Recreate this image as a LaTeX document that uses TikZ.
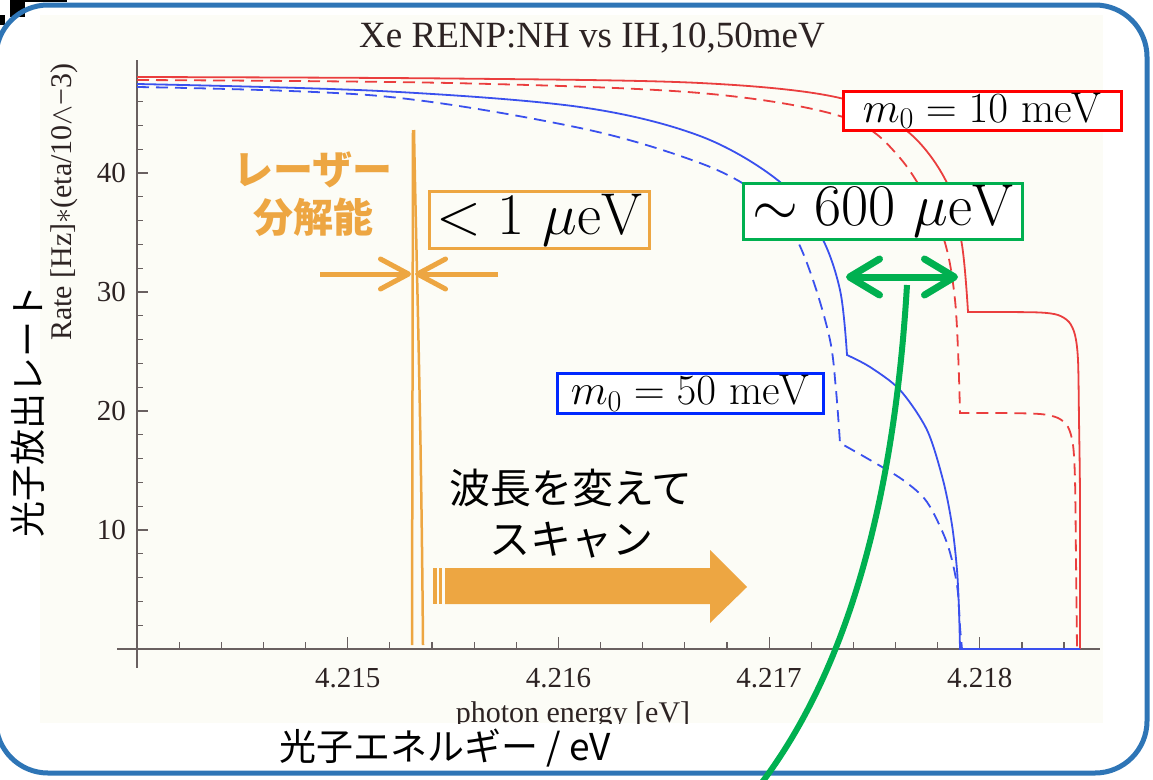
\RequirePackage{fix-cm}
\documentclass[tikz,border=0pt]{standalone}
\usepackage{fontspec}
\newfontfamily\tnr{Liberation Serif}
\newfontfamily\jp{Noto Sans CJK JP}
\usetikzlibrary{arrows.meta}
\definecolor{frameblue}{RGB}{46,117,182}
\definecolor{plotbg}{RGB}{252,252,246}
\definecolor{orng}{RGB}{237,166,66}
\definecolor{grn}{RGB}{0,176,80}
\definecolor{curvered}{RGB}{234,62,62}
\definecolor{curveblue}{RGB}{58,80,238}
\definecolor{axisgray}{RGB}{105,96,96}
\definecolor{tickcol}{RGB}{45,35,35}
\definecolor{labred}{RGB}{255,0,0}
\definecolor{labblue}{RGB}{0,40,255}
\begin{document}
\begin{tikzpicture}[x=1pt,y=-1pt,
  tickline/.style={axisgray,line width=1.2},
  ticklabel/.style={font=\tnr\fontsize{29}{29}\selectfont,text=tickcol,inner sep=0},
  curve/.style={line width=1.8},
  dashcurve/.style={curve,dash pattern=on 12pt off 7pt},
  labelbox/.style={draw,line width=2.5,fill=white,inner sep=0,anchor=north west,font=\fontsize{43}{43}\selectfont},
  bigbox/.style={draw,line width=2.5,inner sep=0,anchor=north west,font=\fontsize{59}{59}\selectfont},
  jptext/.style={font=\jp\fontsize{40}{40}\selectfont,inner sep=0}
]
\useasboundingbox (0,0) rectangle (1153,779);
% slide fragments
\fill[black] (10,0) rectangle (25,17);
\fill[black] (0,15) rectangle (5,25);
\fill[black] (25,0) rectangle (67,2);
% plot background
\fill[plotbg] (40,15) rectangle (1103,723);
% title
\node[font=\tnr\fontsize{37}{37}\selectfont,text=tickcol,anchor=base,inner sep=0] (title) at (592,47) {Xe RENP:NH vs IH,10,50meV};
% axes
\draw[tickline] (117,649) -- (1100,649);
\draw[tickline] (137,60) -- (137,668);
\foreach \v in {2,4,...,48} { \draw[tickline] (137,{649-11.9*\v}) -- ++(6,0); }
\foreach \v in {10,20,30,40} { \draw[tickline] (137,{649-11.9*\v}) -- ++(11,0);
  \node[ticklabel,anchor=east] (yl\v) at (126,{649-11.9*\v}) {\v}; }
\foreach \k in {1,...,22} { \draw[tickline] ({137+42.14*\k},649) -- ++(0,-7); }
\foreach \k/\t in {5/4.215,10/4.216,15/4.217,20/4.218} { \draw[tickline] ({137+42.14*\k},649) -- ++(0,-12);
  \node[ticklabel] (xl\k) at ({137+42.14*\k},678) {\t}; }
\begin{scope}
\clip (40,15) rectangle (1103,723);
\node[font=\tnr\fontsize{30}{30}\selectfont,text=tickcol,anchor=base,inner sep=0] (xlab) at (573,722) {photon energy [eV]};
\end{scope}
\node[font=\tnr\fontsize{30}{30}\selectfont,text=tickcol,rotate=90,inner sep=0] (ylab) at (64,202) {Rate [Hz]$*$(eta/10$\wedge$−3)};
% curves
\draw[curvered,curve] plot[smooth,tension=0.55] coordinates {(137,77) (450,78.5) (700,83) (840,98) (907,131) (947,183) (962,245) (968,312)}
  -- plot[smooth,tension=0.5] coordinates {(968,312) (1000,312) (1040,312.5) (1058,315) (1069,322) (1075,335) (1078,360) (1079,420) (1080,500) (1080,649)};
\draw[curvered,dashcurve] plot[smooth,tension=0.55] coordinates {(137,80) (450,83) (700,93) (843,117) (900,158) (940,228) (955,300) (960,413)}
  -- plot[smooth,tension=0.5] coordinates {(960,413) (1000,413) (1040,414) (1058,418) (1068,427) (1073,445) (1075,480) (1076,560) (1077,649)};
\draw[curveblue,curve] plot[smooth,tension=0.55] coordinates {(137,84) (380,91) (580,107) (700,136) (780,182) (820,234) (840,290) (847,355)}
  -- plot[smooth,tension=0.5] coordinates {(847,355) (870,367) (900,390) (927,430) (943,480) (952,525) (957,570) (959,610) (960,649)} -- (1080,649);
\draw[curveblue,dashcurve] plot[smooth,tension=0.55] coordinates {(137,87) (380,96) (580,128) (700,163) (760,195) (793,233) (813,280) (830,340) (836,390) (840,443)}
  -- plot[smooth,tension=0.5] coordinates {(840,443) (870,460) (903,480) (927,502) (947,543) (957,585) (960,627) (962,649)};
% laser line
\draw[orng,line width=2.5] (413,130) -- (412,645);
\draw[orng,line width=2.5] (414,130) .. controls (416,250) and (421,400) .. (423,645);
\coordinate (laLs) at (320,274); \coordinate (laLt) at (411,274);
\coordinate (laRs) at (498,274); \coordinate (laRt) at (415,274);
\draw[orng,line width=5,-{Straight Barb[length=28pt,width=30pt,round]}] (laLs) -- (laLt);
\draw[orng,line width=5,-{Straight Barb[length=28pt,width=30pt,round]}] (laRs) -- (laRt);
\node[jptext,font=\jp\bfseries\fontsize{40}{40}\selectfont,text=orng] (las1) at (313,170) {レーザー};
\node[jptext,font=\jp\bfseries\fontsize{40}{40}\selectfont,text=orng] (las2) at (313,217) {分解能};
% boxes
\node[bigbox,draw=orng,fill=plotbg,minimum width=220,minimum height=57] (res) at (428,190) {$<1\ \mu\mathrm{eV}$};
\node[bigbox,draw=grn,fill=white,minimum width=279,minimum height=56] (gap) at (742,182) {$\sim 600\ \mu\mathrm{eV}$};
\node[labelbox,draw=labred,minimum width=278,minimum height=39] (m10) at (842,90) {$m_0 = 10\ \mathrm{meV}$};
\node[labelbox,draw=labblue,minimum width=266,minimum height=40] (m50) at (556,372) {$m_0 = 50\ \mathrm{meV}$};
% scan arrow
\fill[orng] (433,568) rectangle (436.5,604);
\fill[orng] (438.5,568) rectangle (442,604);
\fill[orng] (445,568) -- (710,568) -- (710,550) -- (747,587) -- (710,623) -- (710,604) -- (445,604) -- cycle;
\node[jptext,font=\jp\fontsize{41}{41}\selectfont] (scan1) at (571,488) {波長を変えて};
\node[jptext,font=\jp\fontsize{41}{41}\selectfont] (scan2) at (571,540) {スキャン};
% Japanese axis labels
\node[jptext,font=\jp\fontsize{36}{36}\selectfont,rotate=90] (jy) at (28,411) {光子放出レート};
\node[jptext,font=\jp\fontsize{37}{37}\selectfont] (jx) at (445,748) {光子エネルギー / eV};
% frame
\draw[frameblue,line width=5,rounded corners=52] (-4,5) rectangle (1147,773);
% green arrows
\coordinate (gL) at (846,277); \coordinate (gR) at (958,277);
\draw[grn,line width=7,{Straight Barb[length=30pt,width=36pt,round]}-{Straight Barb[length=30pt,width=36pt,round]}] (gL) -- (gR);
\coordinate (gS) at (907,285); \coordinate (gE) at (760,785);
\draw[grn,line width=6] (gS) .. controls (893,520) and (840,680) .. (gE);
\end{tikzpicture}
\end{document}
